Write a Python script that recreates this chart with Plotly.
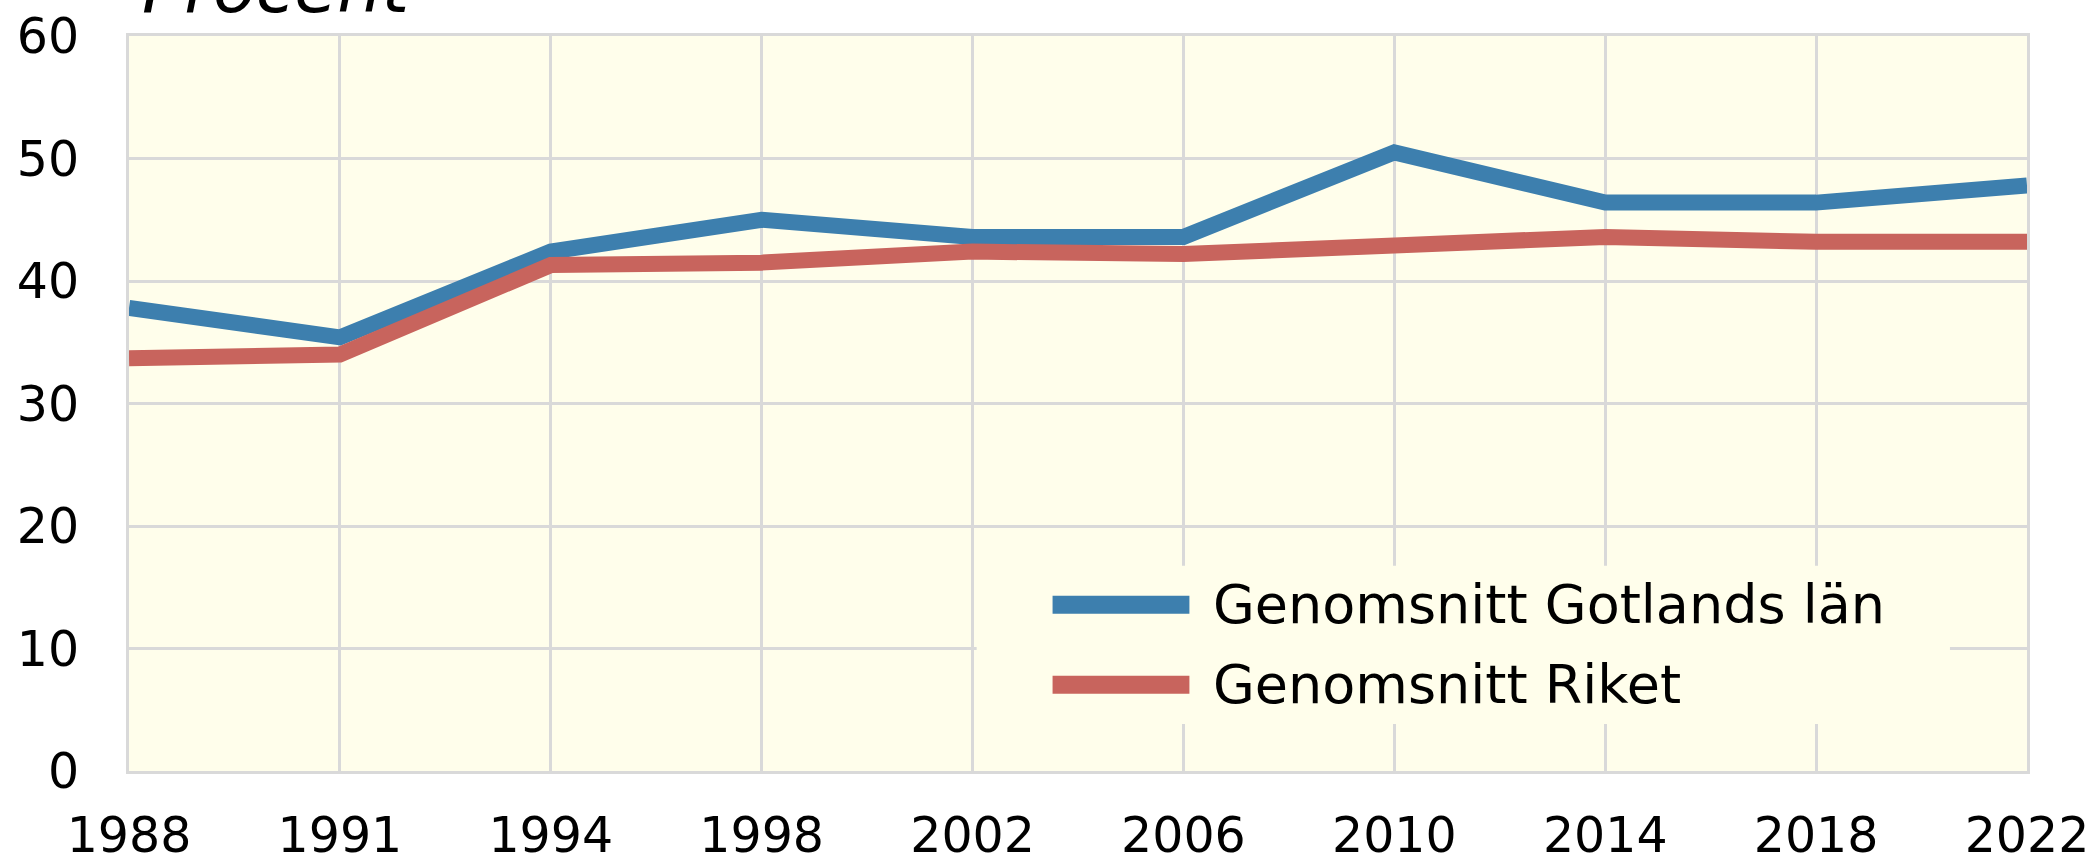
import plotly.graph_objects as go

years = ["1988", "1991", "1994", "1998", "2002", "2006", "2010", "2014", "2018", "2022"]
gotland = [37.8, 35.4, 42.4, 45.0, 43.6, 43.6, 50.5, 46.4, 46.4, 47.8]
riket = [33.7, 34.0, 41.3, 41.5, 42.4, 42.2, 42.9, 43.6, 43.2, 43.2]
series_names = ["Genomsnitt Gotlands län", "Genomsnitt Riket"]
series_colors = ["#3D7FAE", "#C8645D"]
y_title = "Procent"

FONT = "DejaVu Sans"
PLOT_BG = "#FFFEEB"
GRID = "#D9D9D9"

fig = go.Figure()
for name, vals, col in zip(series_names, [gotland, riket], series_colors):
    fig.add_trace(go.Scatter(x=years, y=vals, mode="lines", name=name,
                             line=dict(color=col, width=16), showlegend=False))

# custom legend (long swatches like the original)
fig.add_shape(type="rect", xref="paper", yref="paper", x0=0.4466, x1=0.9594,
              y0=0.064, y1=0.2793, fillcolor=PLOT_BG, line=dict(width=0), layer="above")
leg_y = [0.2262, 0.1172]
for name, col, yy in zip(series_names, series_colors, leg_y):
    fig.add_shape(type="line", xref="paper", yref="paper", x0=0.4866, x1=0.5587,
                  y0=yy, y1=yy, line=dict(color=col, width=18), layer="above")
    fig.add_annotation(xref="paper", yref="paper", x=0.5700, y=yy, xanchor="left",
                       yanchor="middle", text=name, showarrow=False,
                       font=dict(family=FONT, size=54, color="black"))

fig.add_annotation(xref="paper", yref="paper", x=0.006, y=1.007, xanchor="left",
                   yanchor="bottom", text="<i>" + y_title + "</i>", showarrow=False,
                   font=dict(family=FONT, size=70, color="black"))

fig.update_layout(
    template="none",
    width=2097, height=860,
    margin=dict(l=129, r=70, t=36, b=89, autoexpand=False),
    paper_bgcolor="white", plot_bgcolor=PLOT_BG,
    font=dict(family=FONT, size=49, color="black"),
    showlegend=False,
)
fig.update_xaxes(type="category", range=[0, 9], showgrid=True, gridcolor=GRID, gridwidth=3,
                 showline=True, linecolor=GRID, linewidth=3, mirror=True, automargin=False,
                 tickangle=0, ticks="", ticklabelstandoff=19,
                 tickfont=dict(family=FONT, size=49))
fig.update_yaxes(range=[0, 60], dtick=10, showgrid=True, gridcolor=GRID, gridwidth=3,
                 zeroline=False, showline=True, linecolor=GRID, linewidth=3, mirror=True,
                 automargin=False, ticks="", ticklabelstandoff=37,
                 tickfont=dict(family=FONT, size=49))

fig.write_html("out.html", config={"displayModeBar": False},
               post_script="document.body.style.margin='0';document.body.style.overflow='hidden';")
